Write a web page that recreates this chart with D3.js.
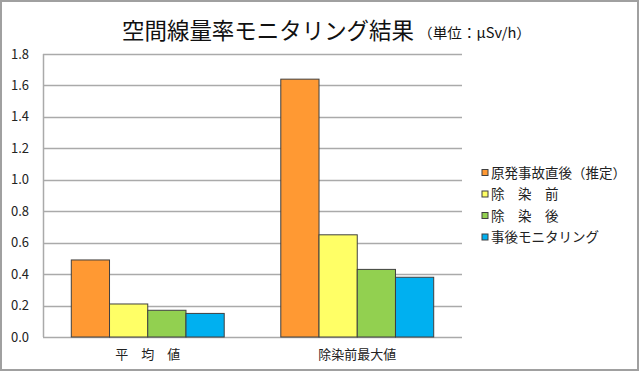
<!DOCTYPE html>
<html><head><meta charset="utf-8">
<script src="https://cdn.jsdelivr.net/npm/d3@7"></script>
<style>body{margin:0;background:#fff}svg{display:block}text{font-family:"Noto Sans CJK JP","Noto Sans",sans-serif}</style>
</head><body><svg id="c" width="640" height="372"></svg>
<script>
const categories = ["平　均　値", "除染前最大値"];
const seriesNames = ["原発事故直後（推定）", "除　染　前", "除　染　後", "事後モニタリング"];
const seriesColors = ["#FF9933", "#FFFF66", "#92D050", "#00B0F0"];
const seriesValues = [
  [0.49, 1.64],
  [0.21, 0.65],
  [0.17, 0.43],
  [0.15, 0.38]
];
const yTicks = [0, 0.2, 0.4, 0.6, 0.8, 1.0, 1.2, 1.4, 1.6, 1.8];

const svg = d3.select("#c");
svg.append("rect").attr("x",1).attr("y",1).attr("width",637).attr("height",369)
  .attr("fill","#fff").attr("stroke","#a0a0a0").attr("stroke-width",2);

const L=43, R=462, T=54, B=337;
const y = d3.scaleLinear().domain([0,1.8]).range([B,T]);
const x0 = d3.scaleBand().domain(categories).range([L,R]).paddingInner(0).paddingOuter(0);
const step = x0.bandwidth();
const barW = step/(4+1.48);
const x1 = d3.scaleBand().domain(d3.range(4)).range([0, barW*4]);

// gridlines
svg.append("g").selectAll("line").data(yTicks).join("line")
  .attr("x1",L).attr("x2",R).attr("y1",d=>Math.round(y(d))+0.5).attr("y2",d=>Math.round(y(d))+0.5)
  .attr("stroke","#aaaaaa").attr("stroke-width",1.5);
svg.append("line").attr("x1",L+0.5).attr("x2",L+0.5).attr("y1",T).attr("y2",B)
  .attr("stroke","#aaaaaa").attr("stroke-width",1.5);

// y tick labels
svg.append("g").selectAll("text").data(yTicks).join("text")
  .attr("x",29).attr("y",d=>y(d)).attr("dy","0.35em").attr("text-anchor","end")
  .attr("font-size",13).attr("fill","#222").text(d=>d.toFixed(1));

// bars
const g = svg.append("g");
categories.forEach((c,ci)=>{
  const gx = x0(c) + (step - barW*4)/2;
  seriesValues.forEach((vals,si)=>{
    g.append("rect").attr("x",gx + x1(si)).attr("y",y(vals[ci]))
      .attr("width",x1.bandwidth()).attr("height",B - y(vals[ci]))
      .attr("fill",seriesColors[si]).attr("stroke","#404040").attr("stroke-width",1);
  });
});

// category labels
svg.append("g").selectAll("text").data(categories).join("text")
  .attr("x",d=>x0(d)+step/2).attr("y",359).attr("text-anchor","middle")
  .attr("font-size",13).attr("fill","#222").text(d=>d);

// title
svg.append("text").attr("x",122).attr("y",39).attr("fill","#111")
  .attr("font-size",23).attr("textLength",292).attr("lengthAdjust","spacingAndGlyphs")
  .text("空間線量率モニタリング結果");
svg.append("text").attr("x",418).attr("y",38).attr("fill","#111")
  .attr("font-size",14).attr("textLength",113).attr("lengthAdjust","spacingAndGlyphs")
  .text("（単位：μSv/h）");

// legend
const lg = svg.append("g");
seriesNames.forEach((n,i)=>{
  const ly = 173 + i*21.5;
  lg.append("rect").attr("x",482).attr("y",ly-3.5).attr("width",6).attr("height",6)
    .attr("fill",seriesColors[i]).attr("stroke","#404040").attr("stroke-width",1);
  lg.append("text").attr("x",491).attr("y",ly).attr("dy","0.35em")
    .attr("font-size",13.5).attr("fill","#222").text(n);
});
</script></body></html>
